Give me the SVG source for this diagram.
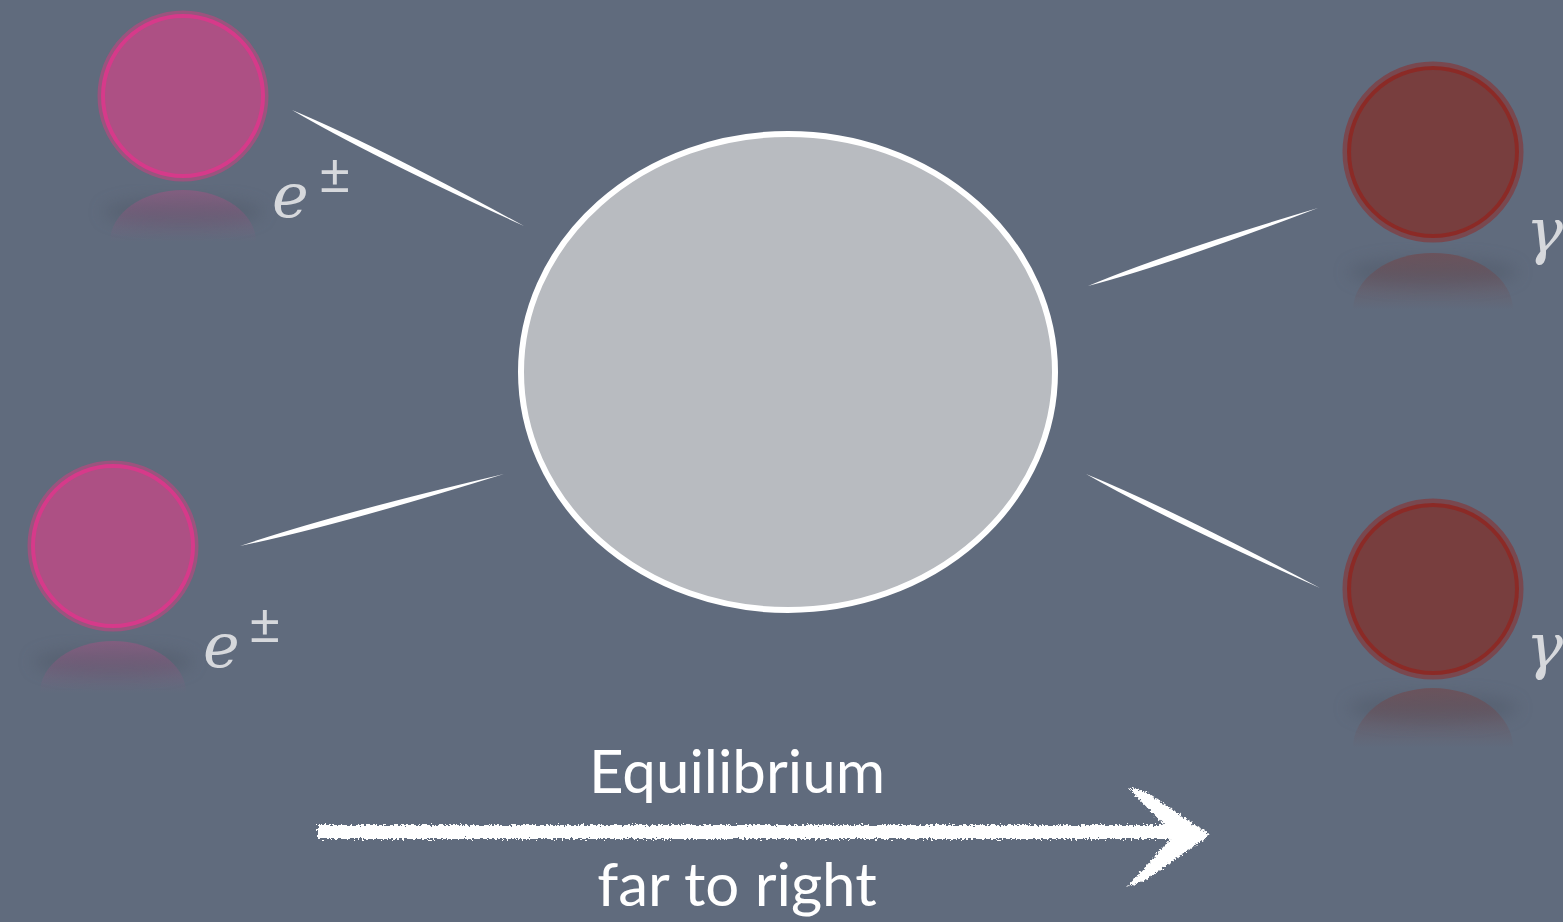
<svg xmlns="http://www.w3.org/2000/svg" width="1563" height="922" viewBox="0 0 1563 922">
<defs>
<style>
.lbl{font-family:"DejaVu Serif","Liberation Serif",serif;font-style:italic;fill:#d6d8dc;font-size:62px}
.pm{font-family:"Liberation Sans","DejaVu Sans",sans-serif;fill:#d6d8dc;font-size:54px}
.cap{font-family:Lato,"Open Sans","Liberation Sans",sans-serif;fill:#ffffff;font-size:60px;text-anchor:middle}
.line{fill:#ffffff}
.pink{fill:#ad5084;stroke:#d63a8a;stroke-width:4}
.pinkhalo{fill:none;stroke:#c2447f;stroke-opacity:0.6;stroke-width:5}
.red{fill:#783e3e;stroke:#8b2a26;stroke-width:4}
.redhalo{fill:none;stroke:#8a3030;stroke-opacity:0.6;stroke-width:5}
</style>
<linearGradient id="rp" x1="0" y1="0" x2="0" y2="1"><stop offset="0" stop-color="#ad5084" stop-opacity="0.45"/><stop offset="1" stop-color="#ad5084" stop-opacity="0"/></linearGradient>
<linearGradient id="rr" x1="0" y1="0" x2="0" y2="1"><stop offset="0" stop-color="#783e3e" stop-opacity="0.5"/><stop offset="1" stop-color="#783e3e" stop-opacity="0"/></linearGradient>
<filter id="blur" x="-50%" y="-50%" width="200%" height="200%"><feGaussianBlur stdDeviation="8"/></filter>
<filter id="chalk" x="-5%" y="-30%" width="110%" height="160%">
<feTurbulence type="fractalNoise" baseFrequency="0.45" numOctaves="2" seed="3" result="n"/>
<feDisplacementMap in="SourceGraphic" in2="n" scale="7" xChannelSelector="R" yChannelSelector="G"/>
</filter>
</defs>
<rect width="1563" height="922" fill="#606b7d"/>

<g id="connectors">
<path class="line" d="M292 110 Q370.5 156 524 226 Q375.9 145.2 292 110 Z"/>
<path class="line" d="M240 546 Q334 526.6 504 474 Q330.8 515 240 546 Z"/>
<path class="line" d="M1088 286 Q1170.4 264.4 1318 208 Q1166.6 253 1088 286 Z"/>
<path class="line" d="M1086 474 Q1165.3 519.3 1320 588 Q1170.5 508.5 1086 474 Z"/>
</g>

<g id="center">
<ellipse cx="788" cy="372" rx="267" ry="238" fill="#b8bbc0" stroke="#ffffff" stroke-width="6"/>
</g>

<g id="e1">
<ellipse cx="183" cy="212" rx="80" ry="14" fill="#4f5868" opacity="0.5" filter="url(#blur)"/>
<path d="M110 242 A73 52 0 0 1 256 242 Z" fill="url(#rp)"/>
<circle cx="183" cy="96" r="83" class="pinkhalo"/>
<circle cx="183" cy="96" r="80" class="pink"/>
<text x="272" y="217" class="lbl">e</text>
<text x="320" y="192" class="pm">±</text>
</g>

<g id="e2">
<ellipse cx="113" cy="662" rx="80" ry="14" fill="#4f5868" opacity="0.5" filter="url(#blur)"/>
<path d="M40 693 A73 52 0 0 1 186 693 Z" fill="url(#rp)"/>
<circle cx="113" cy="546" r="83" class="pinkhalo"/>
<circle cx="113" cy="546" r="80" class="pink"/>
<text x="203" y="667" class="lbl">e</text>
<text x="250" y="642" class="pm">±</text>
</g>

<g id="g1">
<ellipse cx="1433" cy="272" rx="85" ry="15" fill="#4f5868" opacity="0.5" filter="url(#blur)"/>
<path d="M1353 310 A80 57 0 0 1 1513 310 Z" fill="url(#rr)"/>
<circle cx="1433" cy="152" r="88" class="redhalo"/>
<circle cx="1433" cy="152" r="84" class="red"/>
<text x="1526" y="252" class="lbl">γ</text>
</g>

<g id="g2">
<ellipse cx="1433" cy="708" rx="85" ry="15" fill="#4f5868" opacity="0.5" filter="url(#blur)"/>
<path d="M1353 748 A80 60 0 0 1 1513 748 Z" fill="url(#rr)"/>
<circle cx="1433" cy="589" r="88" class="redhalo"/>
<circle cx="1433" cy="589" r="84" class="red"/>
<text x="1526" y="667" class="lbl">γ</text>
</g>

<g id="arrow" filter="url(#chalk)" fill="#ffffff">
<rect x="318" y="825" width="860" height="14"/>
<polygon points="1127,787 1146,792 1210,835 1146,880 1127,887 1174,835"/>
</g>

<g id="labels">
<text x="737" y="793" class="cap">Equilibrium</text>
<text x="737" y="906" class="cap">far to right</text>
</g>
</svg>
